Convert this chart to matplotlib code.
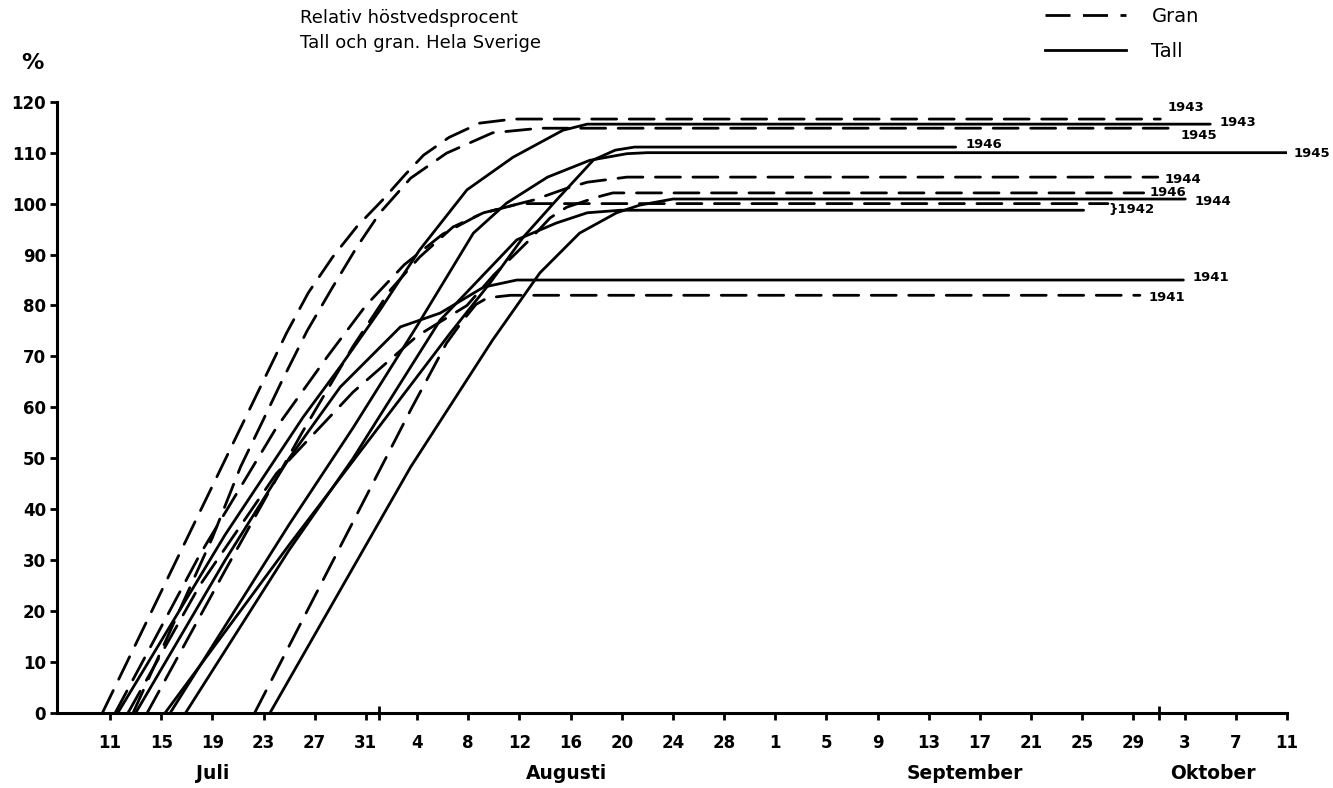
import matplotlib
matplotlib.use("Agg")
import matplotlib.pyplot as plt
from matplotlib.lines import Line2D

# x = day counted from 30 June (1 = 1 July, 32 = 1 Aug, 63 = 1 Sep, 93 = 1 Oct)
# y = relativ höstvedsprocent

# Gran (dashed)
gran_1941_x = [22.3, 34.5, 37.3, 38.6, 39.6, 40.5, 42.3, 91.5]
gran_1941_y = [0, 59.5, 72.6, 77.1, 80.2, 81.5, 82.0, 82.0]
gran_1942_x = [11.4, 18, 24, 28, 31, 34, 37, 40, 43, 89.0]
gran_1942_y = [0, 31, 56, 70, 80, 88, 94, 98, 100, 100]
gran_1943_x = [10.4, 24.8, 26.5, 28.4, 30.3, 32.3, 34, 35.5, 37.5, 39.9, 42.5, 93.1]
gran_1943_y = [0, 74.6, 82.5, 89.5, 95.5, 100.7, 105.5, 109.5, 113.0, 115.8, 116.6, 116.6]
gran_1944_x = [13.9, 20, 26, 30, 32.9, 35.2, 37.8, 40.2, 44.1, 46.7, 48.3, 51.4, 92.9]
gran_1944_y = [0, 28, 55, 72, 83, 89.5, 95.4, 98.2, 100.7, 103, 104.2, 105.2, 105.2]
gran_1945_x = [12.8, 19, 21.2, 22.7, 24.4, 26.4, 28.4, 30.3, 32.1, 34.5, 37.3, 40.9, 44.6, 94.1]
gran_1945_y = [0, 34.4, 48.3, 56.1, 65, 75, 83.6, 91.5, 98.2, 105, 109.9, 113.9, 114.8, 114.8]
gran_1946_x = [12.4, 18, 24, 30, 35, 38.9, 41, 43.8, 45.4, 46.7, 49.1, 50.3, 91.8]
gran_1946_y = [0, 25, 47, 63, 74, 80, 86, 92.9, 97.2, 99.3, 101.3, 102.1, 102.1]

# Tall (solid)
tall_1941_x = [13.0, 20, 25, 29, 33.7, 36.8, 40.2, 42.8, 94.9]
tall_1941_y = [0, 30, 50, 64, 75.8, 78.5, 83.6, 85.0, 85.0]
tall_1942_x = [16.9, 25, 30, 36.8, 42.8, 45.9, 48.3, 50.9, 87.1]
tall_1942_y = [0, 32, 50, 77.1, 92.9, 96.2, 98.2, 98.7, 98.7]
tall_1943_x = [11.6, 20, 26.1, 29, 32.1, 35.2, 38.9, 42.5, 46.4, 48.3, 97.0]
tall_1943_y = [0, 35, 58.1, 68, 79.1, 90.9, 102.7, 109.1, 114.4, 115.6, 115.6]
tall_1944_x = [23.5, 34.5, 40.9, 44.6, 47.7, 50.6, 52.4, 55.0, 95.05]
tall_1944_y = [0, 48.3, 73.2, 86.4, 94.2, 98.2, 99.7, 100.9, 100.9]
tall_1945_x = [15.7, 25, 30, 35, 39.4, 42, 45.2, 48.5, 51.4, 53, 103.0]
tall_1945_y = [0, 37, 56, 76, 94.2, 100.1, 105.2, 108.5, 109.8, 110, 110]
tall_1946_x = [15.3, 25, 30, 37.6, 40.7, 43.3, 45.9, 48.8, 50.5, 52, 77.1]
tall_1946_y = [0, 33, 49.5, 74.6, 84.4, 93.4, 100.7, 108.6, 110.5, 111.1, 111.1]

tick_days = list(range(11, 104, 4))
tick_labels = ["11", "15", "19", "23", "27", "31", "4", "8", "12", "16", "20", "24",
               "28", "1", "5", "9", "13", "17", "21", "25", "29", "3", "7", "11"]
month_starts = [32, 63, 93]
month_names = ["Juli", "Augusti", "September", "Oktober"]
month_label_days = [19, 46.7, 77.8, 97.2]
y_ticks = list(range(0, 121, 10))

gran = [("1941", gran_1941_x, gran_1941_y), ("1942", gran_1942_x, gran_1942_y),
        ("1943", gran_1943_x, gran_1943_y), ("1944", gran_1944_x, gran_1944_y),
        ("1945", gran_1945_x, gran_1945_y), ("1946", gran_1946_x, gran_1946_y)]
tall = [("1941", tall_1941_x, tall_1941_y), ("1942", tall_1942_x, tall_1942_y),
        ("1943", tall_1943_x, tall_1943_y), ("1944", tall_1944_x, tall_1944_y),
        ("1945", tall_1945_x, tall_1945_y), ("1946", tall_1946_x, tall_1946_y)]

# label offsets (points) from the end of each plateau
gran_label_off = {"1941": (6, -1.5), "1943": (5, 8.5), "1944": (5, -2),
                  "1945": (5, -5.5), "1946": (4, 0)}
tall_label_off = {"1941": (6.5, 1.5), "1943": (7, 1.5), "1944": (7, -1.5),
                  "1945": (4.5, -0.5), "1946": (7, 2)}

plt.rcParams["font.family"] = ["DejaVu Sans"]
plt.rcParams["lines.scale_dashes"] = False

fig = plt.figure(figsize=(13.33, 7.88), dpi=100)
ax = fig.add_axes([0.043, 0.0952, 0.9225, 0.7757])

lw = 2.0
dash = (18, 9)
for year, xs, ys in gran:
    ax.plot(xs, ys, color="black", lw=lw, dashes=dash, solid_capstyle="round",
            dash_capstyle="round", solid_joinstyle="round")
for year, xs, ys in tall:
    ax.plot(xs, ys, color="black", lw=lw, solid_capstyle="round",
            solid_joinstyle="round")

txt_kw = dict(fontsize=9.5, fontweight="bold", va="center", ha="left")
for year, xs, ys in gran:
    if year in gran_label_off:
        ax.annotate(year, (xs[-1], ys[-1]), xytext=gran_label_off[year],
                    textcoords="offset points", **txt_kw)
for year, xs, ys in tall:
    if year in tall_label_off:
        ax.annotate(year, (xs[-1], ys[-1]), xytext=tall_label_off[year],
                    textcoords="offset points", **txt_kw)
# shared label for 1942
ax.annotate("}1942", (gran_1942_x[-1], (gran_1942_y[-1] + tall_1942_y[-1]) / 2),
            xytext=(0, -1.5), textcoords="offset points", **txt_kw)

ax.set_xlim(6.88, 103)
ax.set_ylim(0, 120)
for s in ["top", "right"]:
    ax.spines[s].set_visible(False)
for s in ["left", "bottom"]:
    ax.spines[s].set_linewidth(2.2)

ax.set_xticks(tick_days)
ax.set_xticklabels(tick_labels, fontsize=12, fontweight="bold")
ax.set_xticks(month_starts, minor=True)
ax.tick_params(axis="x", which="major", length=5, width=2, pad=10)
ax.tick_params(axis="x", which="minor", length=10, width=2, direction="inout")
ax.set_yticks(y_ticks)
ax.set_yticklabels([str(v) for v in y_ticks], fontsize=12, fontweight="bold")
ax.tick_params(axis="y", length=5, width=2, pad=3)

for name, d in zip(month_names, month_label_days):
    ax.text(d, -11.8, name, fontsize=13.5, fontweight="bold", ha="center",
            va="center", clip_on=False)

fig.text(32 / 1333, 1 - 63 / 788, "%", fontsize=16, fontweight="bold",
         ha="center", va="center")
fig.text(300 / 1333, 1 - 18 / 788, "Relativ höstvedsprocent", fontsize=13,
         ha="left", va="center")
fig.text(300 / 1333, 1 - 43 / 788, "Tall och gran. Hela Sverige", fontsize=13,
         ha="left", va="center")

handles = [Line2D([], [], color="black", lw=lw, dashes=dash),
           Line2D([], [], color="black", lw=lw)]
fig.legend(handles, ["Gran", "Tall"], loc="upper left",
           bbox_to_anchor=(1027 / 1333, 1 + 11 / 788), frameon=False,
           fontsize=14, handlelength=4.2, handletextpad=1.3, labelspacing=0.86)

fig.savefig("out.png", dpi=100)
